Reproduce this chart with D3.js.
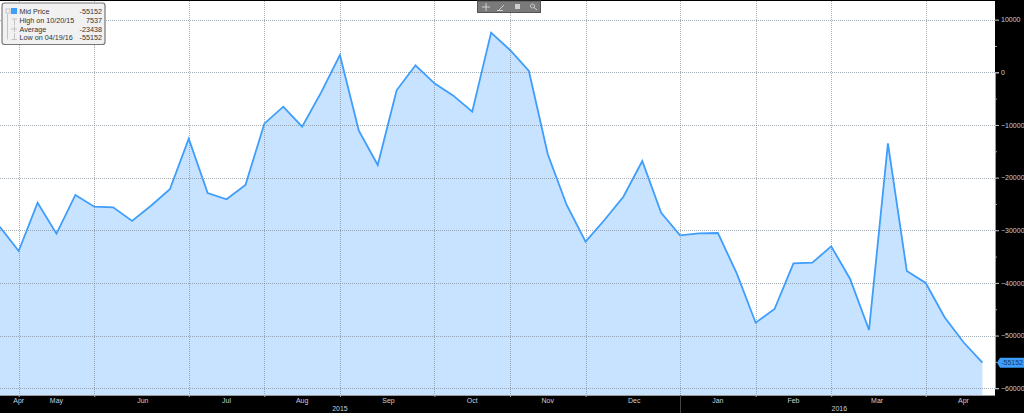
<!DOCTYPE html>
<html><head><meta charset="utf-8">
<script src="https://cdn.jsdelivr.net/npm/d3@7"></script>
<style>
html,body{margin:0;padding:0;background:#000;overflow:hidden}
svg{display:block}
text{font-family:"Liberation Sans",sans-serif}
</style></head><body><svg id="c" width="1024" height="413"></svg>
<script>
const firstDate = "2015-04-21", lastDate = "2016-04-19";
const values = [-29330,-33940,-24770,-30650,-23300,-25530,-25640,-28240,-25340,-22220,-12610,-22930,-24120,-21410,-9760,-6530,-10330,-3870,3290,-11090,-17610,-3420,1330,-2090,-4440,-7480,7537,4240,250,-15570,-25200,-32170,-28050,-23630,-16850,-26670,-30960,-30580,-30520,-38180,-47560,-44960,-36280,-36160,-33050,-39260,-48950,-13490,-37740,-40020,-46530,-51280,-55152];
const gridDates = ["2015-04-28","2015-05-26","2015-06-30","2015-07-28","2015-08-25","2015-09-29","2015-10-27","2015-11-24","2015-12-29","2016-01-26","2016-02-23","2016-03-29"];
const monthLabels = ["Apr","May","Jun","Jul","Aug","Sep","Oct","Nov","Dec","Jan","Feb","Mar","Apr"];
const monthDates = ["2015-04-28","2015-05-12","2015-06-13","2015-07-14","2015-08-11","2015-09-12","2015-10-13","2015-11-10","2015-12-12","2016-01-12","2016-02-09","2016-03-11","2016-04-12"];
const yearLabels = ["2015","2016"];
const yearDates = ["2015-08-25","2016-02-26"];
const yearBreak = "2015-12-29";
const yTicks = [10000,0,-10000,-20000,-30000,-40000,-50000,-60000];
const yMinor = [5000,-5000,-15000,-25000,-35000,-45000,-55000];
const legendLabels = ["Mid Price","High on 10/20/15","Average","Low on 04/19/16"];
const legendValues = ["-55152","7537","-23438","-55152"];

const P = d3.utcParse("%Y-%m-%d");
const dates = d3.utcDay.range(P(firstDate), d3.utcDay.offset(P(lastDate),1), 7);
const data = values.map((v,i)=>({d:dates[i],v}));

const svg = d3.select("#c");
const L=0,R=995,T=1,B=395;
const x = d3.scaleUtc().domain([P(firstDate),P(lastDate)]).range([-0.2,982.4]);
const y = d3.scaleLinear().domain([0,-60000]).range([72.3,388.2]);

svg.append("rect").attr("x",L).attr("y",T).attr("width",R-L).attr("height",B-T).attr("fill","#fff");

svg.append("path").datum(data).attr("fill","#c8e3ff")
  .attr("d",d3.area().x(d=>x(d.d)).y0(B).y1(d=>y(d.v)));

// grid
const grid = svg.append("g").attr("fill","none").attr("stroke","#7f8a96").attr("stroke-opacity",.7)
  .attr("stroke-dasharray","1 1").attr("stroke-width",1);
yTicks.forEach(t=>grid.append("line").attr("x1",L).attr("x2",R).attr("y1",Math.round(y(t))+.5).attr("y2",Math.round(y(t))+.5));
gridDates.forEach(s=>grid.append("line").attr("x1",Math.round(x(P(s)))+.5).attr("x2",Math.round(x(P(s)))+.5).attr("y1",T).attr("y2",B));

svg.append("path").datum(data).attr("fill","none").attr("stroke","#3f9dfb").attr("stroke-width",1.8)
  .attr("stroke-linejoin","miter")
  .attr("d",d3.line().x(d=>x(d.d)).y(d=>y(d.v)));

// right axis
const ay = svg.append("g").attr("transform",`translate(${R},0)`)
  .call(d3.axisRight(y).tickValues(yTicks).tickSize(4).tickPadding(2).tickFormat(d3.format("d")));
ay.select(".domain").attr("stroke","#999");
ay.selectAll(".tick line").attr("stroke","#ccc");
ay.selectAll(".tick text").attr("fill","#c6d2de").attr("font-size",7).attr("font-family",'"Liberation Sans",sans-serif');
const am = svg.append("g").attr("transform",`translate(${R},0)`)
  .call(d3.axisRight(y).tickValues(yMinor).tickSize(2).tickFormat(""));
am.select(".domain").remove();
am.selectAll(".tick line").attr("stroke","#aaa");

// bottom axis
const ax = svg.append("g").attr("transform",`translate(0,${B})`)
  .call(d3.axisBottom(x).tickValues(gridDates.map(P)).tickSize(2).tickFormat(""));
ax.select(".domain").attr("stroke","#999").attr("d",`M${L},0.5H${R}`);
ax.selectAll(".tick line").attr("stroke","#aaa");

svg.append("g").selectAll("text").data(monthLabels).join("text")
  .attr("x",(d,i)=>x(P(monthDates[i]))).attr("y",402.6).attr("text-anchor","middle")
  .attr("font-size",7).attr("fill","#c6d2de").text(d=>d);
svg.append("g").selectAll("text").data(yearLabels).join("text")
  .attr("x",(d,i)=>x(P(yearDates[i]))).attr("y",411).attr("text-anchor","middle")
  .attr("font-size",7).attr("fill","#c6d2de").text(d=>d);
svg.append("line").attr("x1",Math.round(x(P(yearBreak)))+.5).attr("x2",Math.round(x(P(yearBreak)))+.5)
  .attr("y1",B).attr("y2",413).attr("stroke","#444");

// last value tag
const lastY = y(values[values.length-1]);
svg.append("path").attr("fill","#3f9dfb")
  .attr("d",`M997,${lastY} L1000,${lastY-5} H1024 V${lastY+5} H1000 Z`);
svg.append("text").attr("x",1023).attr("y",lastY+2.6).attr("text-anchor","end")
  .attr("font-size",7).attr("fill","#123a66").text(values[values.length-1]);

// legend
const lg = svg.append("g");
lg.append("rect").attr("x",2).attr("y",3).attr("width",103).attr("height",41.5).attr("rx",2.5)
  .attr("fill","#f1f1f1").attr("stroke","#777").attr("stroke-width",1.2);
lg.append("path").attr("fill","none").attr("stroke","#c4c4c4")
  .attr("d","M7.5,14V39.5 M12,19H17 M14.5,19V25 M11,29H17 M14.5,26V32 M14.5,33V39 M11.5,39.5H17");
lg.append("rect").attr("x",6).attr("y",9).attr("width",4).attr("height",4).attr("fill","none").attr("stroke","#c4c4c4");
lg.append("rect").attr("x",11).attr("y",8).attr("width",6).attr("height",6).attr("fill","#3f9dfb");
lg.selectAll("text.l").data(legendLabels).join("text").attr("class","l")
  .attr("x",19.5).attr("y",(d,i)=>14.4+i*8.6).attr("font-size",7.2).attr("fill","#333").text(d=>d);
lg.selectAll("text.v").data(legendValues).join("text").attr("class","v")
  .attr("x",102).attr("y",(d,i)=>14.4+i*8.6).attr("text-anchor","end").attr("font-size",7.2).attr("fill","#333").text(d=>d);

// toolbar
const tb = svg.append("g");
tb.append("rect").attr("x",477.5).attr("y",1).attr("width",63).attr("height",11.5).attr("fill","#7a7a7a").attr("stroke","#555");
tb.append("path").attr("stroke","#cfcfcf").attr("fill","none").attr("d","M482,7H490 M486,3V11 M499,10L504,5 M497,10.5H503 M532.5,4a2,2 0 1,0 .01,0 M534,7.5L537,10");
tb.append("rect").attr("x",515).attr("y",4).attr("width",5).attr("height",5).attr("fill","#cfcfcf");
</script></body></html>
